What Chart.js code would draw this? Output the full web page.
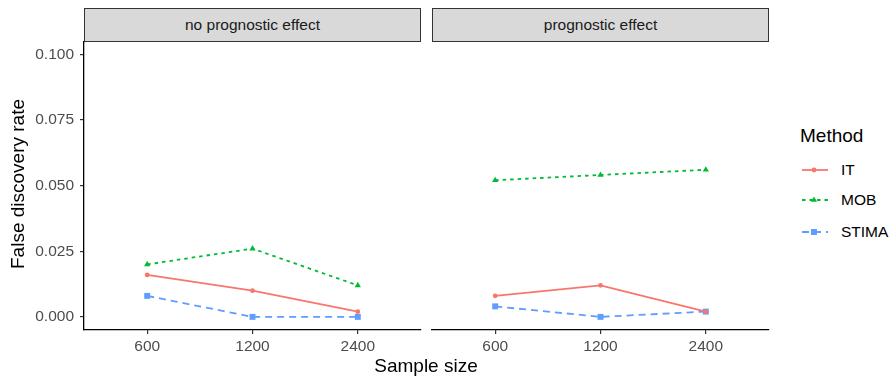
<!DOCTYPE html>
<html>
<head>
<meta charset="utf-8">
<script src="https://cdn.jsdelivr.net/npm/chart.js@4"></script>
<style>
	body { margin: 0; background: #fff; font-family: "Liberation Sans", Arial, sans-serif; }
	#wrap { position: relative; width: 892px; height: 377px; overflow: hidden; }
	canvas { position: absolute; }
	.strip { position: absolute; top: 8px; height: 32px; background: #d9d9d9; border: 1px solid #333;
		font-size: 15.5px; color: #1a1a1a; text-align: center; line-height: 32px; }
	.title { position: absolute; font-size: 19px; line-height: 22px; color: #000; white-space: nowrap; }
	.legend-item { position: absolute; left: 800px; font-size: 15.5px; color: #000; height: 16px; line-height: 16px; }
	.legend-item svg { position: absolute; left: 0; top: 0; }
	.legend-item span { position: absolute; left: 41px; top: 0; }
</style>
</head>
<body>
<div id="wrap">
	<div class="strip" style="left:84px;width:335px;">no prognostic effect</div>
	<div class="strip" style="left:432px;width:335px;">prognostic effect</div>
	<canvas id="panelA" width="426" height="336" style="left:0;top:26px;"></canvas>
	<canvas id="panelB" width="347" height="336" style="left:427px;top:26px;"></canvas>
	<div class="title" style="left:326px;top:355px;width:200px;text-align:center;">Sample size</div>
	<div class="title" style="left:-82px;top:173px;width:200px;text-align:center;transform:rotate(-90deg);">False discovery rate</div>
	<div class="title" style="left:800px;top:125px;">Method</div>
	<div id="legend"></div>
</div>
<script>
const sampleSizes = ['600', '1200', '2400'];
const methods = ['IT', 'MOB', 'STIMA'];
const yTicks = [0, 0.025, 0.05, 0.075, 0.1];

// no prognostic effect
const itNoProg = [0.016, 0.010, 0.002];
const mobNoProg = [0.020, 0.026, 0.012];
const stimaNoProg = [0.008, 0.000, 0.000];

// prognostic effect
const itProg = [0.008, 0.012, 0.002];
const mobProg = [0.052, 0.054, 0.056];
const stimaProg = [0.004, 0.000, 0.002];

const styles = {
	IT: { color: '#F8766D', dash: [], point: 'circle', radius: 2.4 },
	MOB: { color: '#00BA38', dash: [3.5, 4], point: 'triangle', radius: 3.6 },
	STIMA: { color: '#619CFF', dash: [7, 5], point: 'rect', radius: 4.2 },
};

const toPoints = (values) => values.map((v, i) => ({ x: i + 1, y: v }));

const makeDataset = (name, values) => ({
	label: name,
	data: toPoints(values),
	borderColor: styles[name].color,
	backgroundColor: styles[name].color,
	borderDash: styles[name].dash,
	borderWidth: 1.8,
	pointStyle: styles[name].point,
	pointRadius: styles[name].radius,
	pointBorderWidth: 0,
	tension: 0,
});

const tickFont = { family: '"Liberation Sans", Arial, sans-serif', size: 15.5 };

function makePanel(canvasId, series, showY) {
	const ctx = document.getElementById(canvasId).getContext('2d');
	return new Chart(ctx, {
		type: 'line',
		data: {
			datasets: methods.map((name, i) => makeDataset(name, series[i])),
		},
		options: {
			responsive: false,
			animation: false,
			clip: false,
			layout: { padding: { top: 15, right: 5, left: showY ? 0 : 5, bottom: 0 } },
			plugins: { legend: { display: false }, tooltip: { enabled: false } },
			scales: {
				x: {
					type: 'linear',
					min: 0.4,
					max: 3.6,
					afterBuildTicks: (scale) => { scale.ticks = sampleSizes.map((_, i) => ({ value: i + 1 })); },
					afterFit: (scale) => { scale.height = 32; },
					ticks: {
						callback: (value) => sampleSizes[value - 1],
						color: '#4d4d4d',
						font: tickFont,
						padding: 3,
						maxRotation: 0,
						autoSkip: false,
					},
					grid: { drawOnChartArea: false, drawTicks: true, tickLength: 4, color: '#333', lineWidth: 1.2 },
					border: { display: true, color: '#000', width: 1.3 },
				},
				y: {
					display: showY,
					min: -0.005,
					max: 0.105,
					afterBuildTicks: (scale) => { scale.ticks = yTicks.map((v) => ({ value: v })); },
					afterFit: (scale) => { if (showY) scale.width = 84; },
					ticks: {
						callback: (value) => value.toFixed(3),
						color: '#4d4d4d',
						font: tickFont,
						padding: 6,
					},
					grid: { drawOnChartArea: false, drawTicks: true, tickLength: 4, color: '#333', lineWidth: 1.2 },
					border: { display: true, color: '#000', width: 1.3 },
				},
			},
		},
	});
}

makePanel('panelA', [itNoProg, mobNoProg, stimaNoProg], true);
makePanel('panelB', [itProg, mobProg, stimaProg], false);

// legend keys
const legend = document.getElementById('legend');
const legendTop = [162, 192, 223.5];
methods.forEach((name, i) => {
	const s = styles[name];
	const item = document.createElement('div');
	item.className = 'legend-item';
	item.style.top = `${legendTop[i]}px`;
	let marker = '';
	if (s.point === 'circle') marker = `<circle cx="14" cy="8" r="2.4" fill="${s.color}"/>`;
	if (s.point === 'triangle') marker = `<polygon points="14,4.4 17.1,9.8 10.9,9.8" fill="${s.color}"/>`;
	if (s.point === 'rect') marker = `<rect x="11" y="5" width="6" height="6" fill="${s.color}"/>`;
	item.innerHTML = `<svg width="30" height="16"><line x1="2" y1="8" x2="28" y2="8" stroke="${s.color}" stroke-width="1.8" stroke-dasharray="${s.dash.join(',')}"/>${marker}</svg><span>${name}</span>`;
	legend.appendChild(item);
});
</script>
</body>
</html>
